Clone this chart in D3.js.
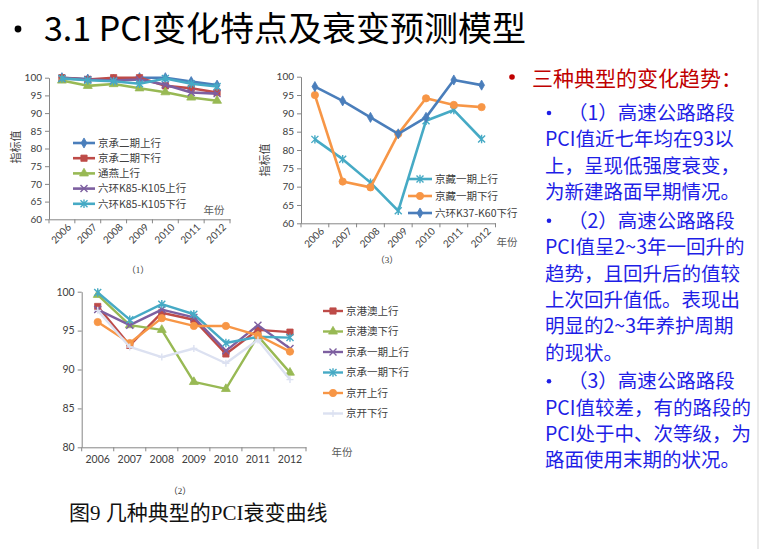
<!DOCTYPE html>
<html><head><meta charset="utf-8">
<script src="https://cdn.jsdelivr.net/npm/d3@7"></script>
<style>
body{margin:0;background:#fff;}
svg{display:block;}
</style></head>
<body>
<svg id="c" width="760" height="549"></svg>
<script>
// ---------- data ----------
const years = ["2006","2007","2008","2009","2010","2011","2012"];

// chart (1)
const c1Names = ["京承二期上行","京承二期下行","通燕上行","六环K85-K105上行","六环K85-K105下行"];
const c1_jc2Up   = [100, 99.6, 99.5, 100, 100, 98.9, 97.9];
const c1_jc2Down = [100, 99.5, 100, 100, 97.7, 97.0, 95.8];
const c1_tyUp    = [99.2, 97.7, 98.2, 97.0, 95.9, 94.4, 93.5];
const c1_lhUp    = [99.8, 99.5, 99.2, 99.5, 98.0, 95.8, 95.5];
const c1_lhDown  = [99.8, 99.3, 99.0, 98.3, 99.8, 98.3, 97.5];
const c1Ticks = [60,65,70,75,80,85,90,95,100];

// chart (2)
const c2Names = ["京港澳上行","京港澳下行","京承一期上行","京承一期下行","京开上行","京开下行"];
const c2_gaUp    = [98.1, 93.1, 97.3, 96.4, 92.0, 95.1, 94.8];
const c2_gaDown  = [99.6, 95.7, 95.1, 88.4, 87.5, 94.3, 89.6];
const c2_jc1Up   = [97.7, 95.7, 97.7, 96.7, 92.4, 95.7, 92.7];
const c2_jc1Down = [99.9, 96.4, 98.4, 97.1, 93.4, 94.2, 94.1];
const c2_jkUp    = [96.1, 93.4, 96.6, 95.6, 95.6, 94.4, 92.3];
const c2_jkDown  = [97.6, 92.9, 91.6, 92.7, 90.8, 93.8, 88.7];
const c2Ticks = [80,85,90,95,100];

// chart (3)
const c3Names = ["京藏一期上行","京藏一期下行","六环K37-K60下行"];
const c3_jzUp   = [82.9, 77.5, 71.1, 63.4, 88.0, 90.9, 83.0];
const c3_jzDown = [95.0, 71.4, 69.8, 84.4, 94.1, 92.3, 91.7];
const c3_lhDown = [97.3, 93.4, 88.9, 84.4, 88.9, 99.1, 97.7];
const c3Ticks = [60,65,70,75,80,85,90,95,100];

const titleText = "3.1 PCI变化特点及衰变预测模型";
const captionText = "图9 几种典型的PCI衰变曲线";
const headText = "三种典型的变化趋势：";
const bodyLines = [
  {b:true,  t:"（1）高速公路路段"},
  {b:false, t:"PCI值近七年均在93以"},
  {b:false, t:"上，呈现低强度衰变，"},
  {b:false, t:"为新建路面早期情况。"},
  {b:true,  t:"（2）高速公路路段"},
  {b:false, t:"PCI值呈2~3年一回升的"},
  {b:false, t:"趋势，且回升后的值较"},
  {b:false, t:"上次回升值低。表现出"},
  {b:false, t:"明显的2~3年养护周期"},
  {b:false, t:"的现状。"},
  {b:true,  t:"（3）高速公路路段"},
  {b:false, t:"PCI值较差，有的路段的"},
  {b:false, t:"PCI处于中、次等级，为"},
  {b:false, t:"路面使用末期的状况。"}
];

// ---------- styles ----------
const COL = {blue:"#4A7EBB", red:"#BE4B48", green:"#98B954", purple:"#7D5FA0", cyan:"#46AAC5", orange:"#F79646", light:"#DCE1F1"};
const CJK = "'Noto Sans CJK SC','Noto Sans',sans-serif";
const NUM = "Lato,'Open Sans',sans-serif";
const SERIF = "'Liberation Serif','Noto Sans CJK SC',serif";

const svg = d3.select("#c");

function markerPath(type, s){
  const h = s/2;
  switch(type){
    case "diamond": return d3.symbol(d3.symbolDiamond, s*s*0.6)();
    case "square":  return d3.symbol(d3.symbolSquare, s*s*0.8)();
    case "triangle":return d3.symbol(d3.symbolTriangle, s*s*0.7)();
    case "circle":  return d3.symbol(d3.symbolCircle, s*s*0.85)();
    case "x":       return `M${-h},${-h}L${h},${h}M${-h},${h}L${h},${-h}`;
    case "star":    return `M${-h},${-h}L${h},${h}M${-h},${h}L${h},${-h}M0,${-h*1.2}L0,${h*1.2}`;
    case "plus":    return `M${-h},0L${h},0M0,${-h}L0,${h}`;
  }
}
const strokeOnly = t => t==="x"||t==="star"||t==="plus";

function drawChart(cfg){
  const g = svg.append("g");
  const x = d3.scaleBand().domain(years).range([cfg.x0, cfg.x1]);
  const y = d3.scaleLinear().domain([cfg.ticks[0], cfg.ticks[cfg.ticks.length-1]]).range([cfg.yb, cfg.yt]);

  // y axis
  const ya = g.append("g").attr("transform",`translate(${cfg.x0},0)`)
    .call(d3.axisLeft(y).tickValues(cfg.ticks).tickSize(4).tickSizeOuter(0).tickPadding(3));
  ya.select(".domain").attr("stroke","#868686");
  ya.selectAll(".tick line").attr("stroke","#868686");
  ya.selectAll(".tick text").attr("font-family",NUM).attr("font-size",cfg.fs).attr("fill","#404040");

  // x axis
  const xa = g.append("g").attr("transform",`translate(0,${cfg.yb})`)
    .call(d3.axisBottom(x).tickSize(0).tickPadding(cfg.rot?7:8));
  xa.select(".domain").attr("stroke","#868686");
  xa.selectAll(".tick text").attr("font-family",NUM).attr("font-size",cfg.fs).attr("fill","#404040");
  if(cfg.rot){
    xa.selectAll(".tick text").attr("text-anchor","end")
      .attr("transform","rotate(-45)").attr("dx","0.1em").attr("dy","0.6em");
  }
  // tick marks between categories
  const edges = years.map(d=>x(d)).concat([x.range()[1]]);
  g.append("g").selectAll("line").data(edges).join("line")
    .attr("x1",d=>d).attr("x2",d=>d).attr("y1",cfg.yb).attr("y2",cfg.yb+4)
    .attr("stroke","#868686");

  // series
  const line = d3.line().x((d,i)=>x(years[i])+x.bandwidth()/2).y(d=>y(d));
  cfg.series.forEach(s=>{
    g.append("path").datum(s.values).attr("d",line).attr("fill","none")
      .attr("stroke",s.color).attr("stroke-width",cfg.lw).attr("stroke-linejoin","round");
    g.append("g").selectAll("path").data(s.values).join("path")
      .attr("transform",(d,i)=>`translate(${x(years[i])+x.bandwidth()/2},${y(d)})`)
      .attr("d",markerPath(s.marker,cfg.ms))
      .attr("fill",strokeOnly(s.marker)?"none":s.color)
      .attr("stroke",s.color).attr("stroke-width",strokeOnly(s.marker)?1.4:0.8);
  });

  // legend
  const lg = g.append("g");
  cfg.series.forEach((s,i)=>{
    const ly = cfg.leg.y + i*cfg.leg.dy;
    lg.append("line").attr("x1",cfg.leg.x).attr("x2",cfg.leg.x+cfg.leg.w).attr("y1",ly).attr("y2",ly)
      .attr("stroke",s.color).attr("stroke-width",cfg.lw);
    lg.append("path").attr("transform",`translate(${cfg.leg.x+cfg.leg.w/2},${ly})`)
      .attr("d",markerPath(s.marker,cfg.ms))
      .attr("fill",strokeOnly(s.marker)?"none":s.color)
      .attr("stroke",s.color).attr("stroke-width",strokeOnly(s.marker)?1.4:0.8);
    lg.append("text").attr("x",cfg.leg.x+cfg.leg.w+3).attr("y",ly).attr("dy","0.36em")
      .attr("font-family",CJK).attr("font-size",cfg.leg.fs).attr("fill","#404040").text(s.name);
  });

  // axis titles
  if(cfg.yl){
    g.append("text").attr("transform",`translate(${cfg.yl[0]},${cfg.yl[1]}) rotate(-90)`)
      .attr("text-anchor","middle").attr("dy","0.36em").attr("font-family",SERIF).attr("font-size",11)
      .attr("fill","#404040").text("指标值");
  }
  g.append("text").attr("x",cfg.xl[0]).attr("y",cfg.xl[1]).attr("dy","0.36em").attr("text-anchor","middle")
    .attr("font-family",SERIF).attr("font-size",10.5).attr("fill","#595959").text("年份");
  g.append("text").attr("x",cfg.lab[0]).attr("y",cfg.lab[1]).attr("dy","0.36em").attr("text-anchor","middle")
    .attr("font-family",SERIF).attr("font-size",9).attr("fill","#333").text(cfg.label);
}

// chart (1)
drawChart({
  x0:49, x1:230, yt:77.7, yb:219.3, ticks:c1Ticks, fs:10, rot:true, lw:2.6, ms:7,
  series:[
    {name:c1Names[0], values:c1_jc2Up,   color:COL.blue,   marker:"diamond"},
    {name:c1Names[1], values:c1_jc2Down, color:COL.red,    marker:"square"},
    {name:c1Names[2], values:c1_tyUp,    color:COL.green,  marker:"triangle"},
    {name:c1Names[3], values:c1_lhUp,    color:COL.purple, marker:"x"},
    {name:c1Names[4], values:c1_lhDown,  color:COL.cyan,   marker:"star"}
  ],
  leg:{x:73, w:22, y:143, dy:15.2, fs:10.5},
  yl:[16,147], xl:[214,210], lab:[138,270], label:"（1）"
});

// chart (3)
drawChart({
  x0:301, x1:495.5, yt:76.7, yb:223.3, ticks:c3Ticks, fs:10, rot:true, lw:2.6, ms:7,
  series:[
    {name:c3Names[0], values:c3_jzUp,   color:COL.cyan,   marker:"star"},
    {name:c3Names[1], values:c3_jzDown, color:COL.orange, marker:"circle"},
    {name:c3Names[2], values:c3_lhDown, color:COL.blue,   marker:"diamond"}
  ],
  leg:{x:408, w:24, y:179, dy:17, fs:10.5},
  yl:[265,160], xl:[507,242], lab:[387,260], label:"（3）"
});

// chart (2)
drawChart({
  x0:81.7, x1:306, yt:291.7, yb:447.3, ticks:c2Ticks, fs:10.5, rot:false, lw:2.4, ms:7,
  series:[
    {name:c2Names[0], values:c2_gaUp,    color:COL.red,    marker:"square"},
    {name:c2Names[1], values:c2_gaDown,  color:COL.green,  marker:"triangle"},
    {name:c2Names[2], values:c2_jc1Up,   color:COL.purple, marker:"x"},
    {name:c2Names[3], values:c2_jc1Down, color:COL.cyan,   marker:"star"},
    {name:c2Names[4], values:c2_jkUp,    color:COL.orange, marker:"circle"},
    {name:c2Names[5], values:c2_jkDown,  color:COL.light,  marker:"plus"}
  ],
  leg:{x:323, w:20, y:311, dy:20.5, fs:10.5},
  yl:null, xl:[342,452], lab:[180,491], label:"（2）"
});

// title
svg.append("circle").attr("cx",18).attr("cy",29).attr("r",3.4).attr("fill","#000");
svg.append("text").attr("x",44).attr("y",41).attr("font-family",CJK).attr("font-size",34)
  .attr("fill","#000").text(titleText);

// caption
svg.append("text").attr("x",69).attr("y",520).attr("font-family",SERIF).attr("font-size",21)
  .attr("fill","#111").text(captionText);

// right side text
svg.append("circle").attr("cx",512).attr("cy",77).attr("r",2.8).attr("fill","#C00000");
svg.append("text").attr("x",532).attr("y",78).attr("dy","0.36em").attr("font-family",CJK)
  .attr("font-size",21).attr("fill","#C00000").text(headText);

let yy = 113;
bodyLines.forEach((l,i)=>{
  if(i>0) yy += l.b ? 28.5 : 26.4;
  if(l.b){
    svg.append("circle").attr("cx",549).attr("cy",yy).attr("r",2.3).attr("fill","#1E1EE6");
  }
  svg.append("text").attr("x", l.b ? 568 : 545).attr("y",yy).attr("dy","0.36em")
    .attr("font-family",CJK).attr("font-size",19.5).attr("fill","#1E1EE6").text(l.t);
});

// right edge rule
svg.append("line").attr("x1",758).attr("x2",758).attr("y1",0).attr("y2",549)
  .attr("stroke","#e3e3e3").attr("stroke-width",1.5);
</script>
</body></html>
